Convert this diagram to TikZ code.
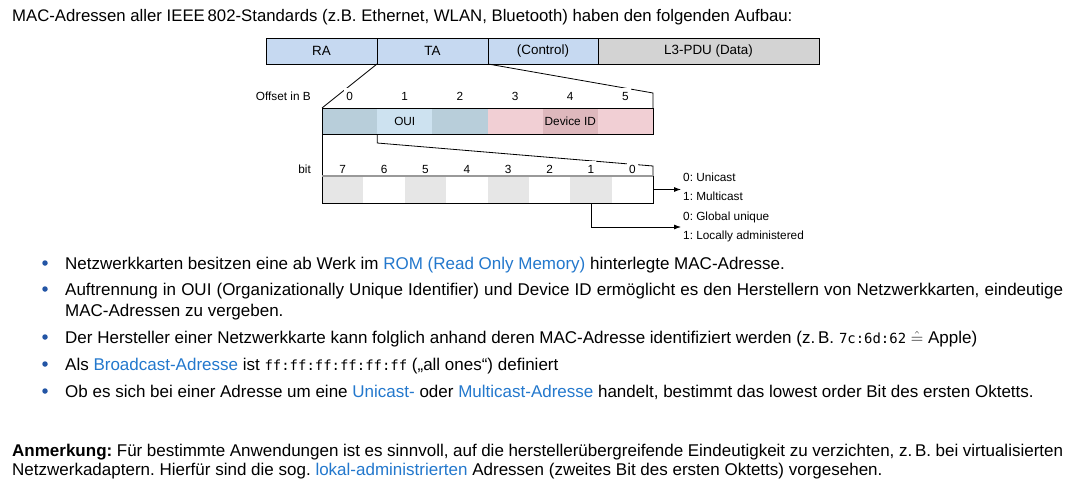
\documentclass[tikz,border=0pt]{standalone}
\usepackage{fontspec}
\setmainfont{Liberation Sans}
\setmonofont[Scale=0.82]{DejaVu Sans Mono}
\usetikzlibrary{positioning,arrows.meta}
\definecolor{frblue}{RGB}{198,217,241}
\definecolor{frgray}{RGB}{211,211,211}
\definecolor{ouidk}{RGB}{184,206,218}
\definecolor{ouilt}{RGB}{205,226,240}
\definecolor{devlt}{RGB}{241,207,212}
\definecolor{devdk}{RGB}{222,184,189}
\definecolor{bitgr}{RGB}{230,230,230}
\definecolor{link}{RGB}{35,120,205}
\definecolor{bull}{RGB}{35,85,165}
\newcommand{\lk}[1]{\textcolor{link}{#1}}

\begin{document}
\frenchspacing
\begin{tikzpicture}[x=1pt,y=-1pt,node distance=0pt,
  tx/.style={anchor=base west,inner sep=0pt,font=\fontsize{17}{20}\selectfont},
  fr/.style={draw,line width=0.8pt,outer sep=0pt,minimum height=26pt,font=\fontsize{13.4}{16}\selectfont},
  oc/.style={outer sep=0pt,inner sep=0pt,minimum width=55.17pt,minimum height=26pt,font=\fontsize{11.8}{14}\selectfont},
  bc/.style={outer sep=0pt,inner sep=0pt,minimum width=41.375pt,minimum height=27pt},
  lb/.style={fill=white,inner xsep=2pt,inner ysep=3.5pt,font=\fontsize{11.8}{14}\selectfont},
  nt/.style={align=left,inner sep=2pt,font=\fontsize{11.8}{19}\selectfont},
  dot/.style={circle,fill=bull,inner sep=0pt,minimum size=5.5pt},
  zl/.style={line width=0.8pt},
  ar/.style={-{Latex[length=7pt,width=5pt]},line width=0.8pt}]
  \useasboundingbox[fill=white](0,0) rectangle (1074,480);
  % heading
  \node[tx,font=\fontsize{16.75}{20}\selectfont](t0) at (12,21){MAC-Adressen aller IEEE\,802-Standards (z.B. Ethernet, WLAN, Bluetooth) haben den folgenden Aufbau:};
  % frame
  \node[fr,fill=frblue,minimum width=111pt,anchor=north west](ra) at (266,38){RA};
  \node[fr,fill=frblue,minimum width=111pt,right=of ra](ta){TA};
  \node[fr,fill=frblue,minimum width=110pt,right=of ta](ctl){(Control)};
  \node[fr,fill=frgray,minimum width=221pt,right=of ctl](pdu){L3-PDU (Data)};
  % address bytes
  \node[oc,fill=ouidk,anchor=north west](o0) at (322,108){};
  \node[oc,fill=ouilt,right=of o0](o1){OUI};
  \node[oc,fill=ouidk,right=of o1](o2){};
  \node[oc,fill=devlt,right=of o2](o3){};
  \node[oc,fill=devdk,right=of o3](o4){Device ID};
  \node[oc,fill=devlt,right=of o4](o5){};
  \draw[zl](o0.north west) rectangle (o5.south east);
  % bits of first byte
  \node[bc,fill=bitgr,anchor=north west](b7) at (322,176){};
  \node[bc,right=of b7](b6){};
  \node[bc,fill=bitgr,right=of b6](b5){};
  \node[bc,right=of b5](b4){};
  \node[bc,fill=bitgr,right=of b4](b3){};
  \node[bc,right=of b3](b2){};
  \node[bc,fill=bitgr,right=of b2](b1){};
  \node[bc,right=of b1](b0){};
  % zoom lines
  \draw[zl](ta.south west)--(o0.north west);
  \draw[zl](ta.south east)--([yshift=15pt]o5.north east)--(o5.north east);
  \draw[zl](o0.south west)--(b7.north west);
  \draw[zl](o0.south east)--([yshift=-9pt]o0.south east)--([yshift=10pt]b0.north east)--(b0.north east);
  % offsets
  \node[lb,anchor=base east](ofs) at (313,100){Offset in B};
  \node[lb,anchor=base](l0) at ([yshift=8pt]o0.north){0};
  \node[lb,anchor=base](l1) at ([yshift=8pt]o1.north){1};
  \node[lb,anchor=base](l2) at ([yshift=8pt]o2.north){2};
  \node[lb,anchor=base](l3) at ([yshift=8pt]o3.north){3};
  \node[lb,anchor=base](l4) at ([yshift=8pt]o4.north){4};
  \node[lb,anchor=base](l5) at ([yshift=8pt]o5.north){5};
  % bit numbers
  \node[lb,anchor=base east](bit) at (313,173){bit};
  \node[lb,anchor=base](n7) at ([yshift=3pt]b7.north){7};
  \node[lb,anchor=base](n6) at ([yshift=3pt]b6.north){6};
  \node[lb,anchor=base](n5) at ([yshift=3pt]b5.north){5};
  \node[lb,anchor=base](n4) at ([yshift=3pt]b4.north){4};
  \node[lb,anchor=base](n3) at ([yshift=3pt]b3.north){3};
  \node[lb,anchor=base](n2) at ([yshift=3pt]b2.north){2};
  \node[lb,anchor=base](n1) at ([yshift=3pt]b1.north){1};
  \node[lb,anchor=base](n0) at ([yshift=3pt]b0.north){0};
  \draw[zl](b7.north west) rectangle (b0.south east);
  \draw[line width=1.6pt,black!40](b7.north west)--(b0.north east);
  % meaning of bits 0 and 1
  \node[nt,anchor=west](mc) at (681,187){0: Unicast\\1: Multicast};
  \node[nt,anchor=west](gu) at (681,227){0: Global unique\\1: Locally administered};
  \draw[ar](b0.east)--(b0.east-|mc.west);
  \draw[ar](b1.south)|-(gu.west);
  % bullets
  \node[dot](d1) at (45,263){};
  \node[tx](t1) at (65,269){Netzwerkkarten besitzen eine ab Werk im \lk{ROM (Read Only Memory)} hinterlegte MAC-Adresse.};
  \node[dot](d2) at (45,289){};
  \node[tx](t2) at (65,295){\makebox[998pt][s]{Auftrennung in OUI (Organizationally Unique Identifier) und Device ID ermöglicht es den Herstellern von Netzwerkkarten, eindeutige}};
  \node[tx](t2b) at (65,316){MAC-Adressen zu vergeben.};
  \node[dot](d3) at (45,337){};
  \node[tx](t3) at (65,343){Der Hersteller einer Netzwerkkarte kann folglich anhand deren MAC-Adresse identifiziert werden (z.\,B. \texttt{7c:6d:62} $\mathrel{\hat{=}}$ Apple)};
  \node[dot](d4) at (45,364){};
  \node[tx](t4) at (65,370){Als \lk{Broadcast-Adresse} ist \texttt{ff:ff:ff:ff:ff:ff} („all ones“) definiert};
  \node[dot](d5) at (45,391){};
  \node[tx](t5) at (65,397){Ob es sich bei einer Adresse um eine \lk{Unicast-} oder \lk{Multicast-Adresse} handelt, bestimmt das lowest order Bit des ersten Oktetts.};
  % note
  \node[tx](a1) at (12,456){\makebox[1051pt][s]{\textbf{Anmerkung:} Für bestimmte Anwendungen ist es sinnvoll, auf die herstellerübergreifende Eindeutigkeit zu verzichten, z.\,B. bei virtualisierten}};
  \node[tx](a2) at (12,475){Netzwerkadaptern. Hierfür sind die sog. \lk{lokal-administrierten} Adressen (zweites Bit des ersten Oktetts) vorgesehen.};
\end{tikzpicture}
\end{document}
